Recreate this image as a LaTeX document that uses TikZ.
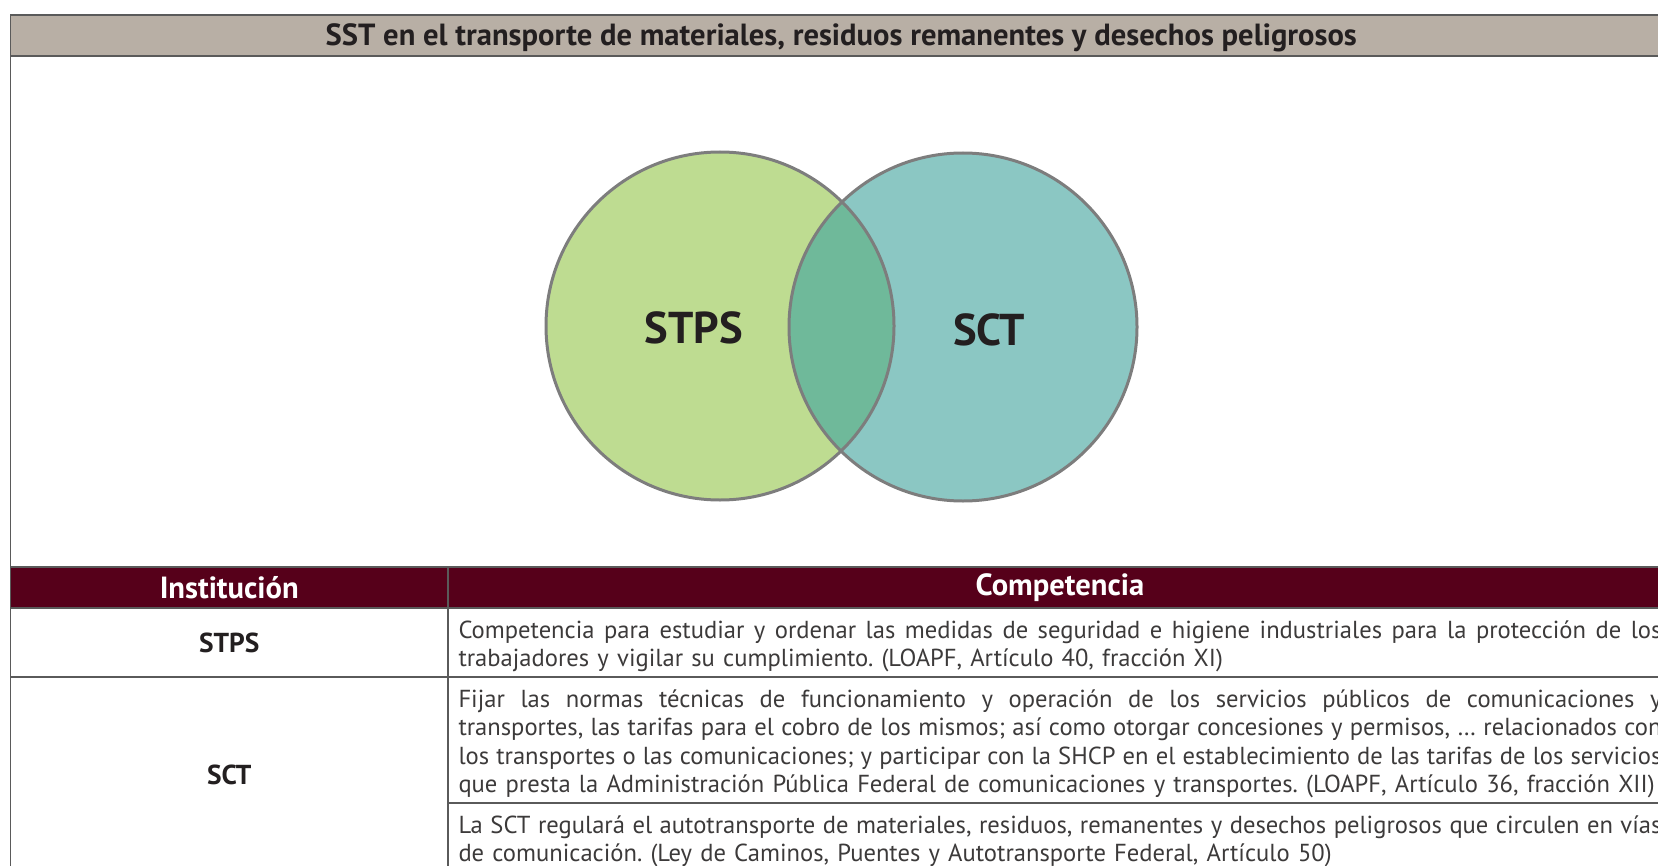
\documentclass[tikz,border=0pt]{standalone}
\usepackage{fontspec}
\setmainfont{PT Sans}
\usepackage{tikz}
\usetikzlibrary{positioning}

\definecolor{headgray}{RGB}{184,175,165}
\definecolor{maroon}{RGB}{86,0,26}
\definecolor{stpsgreen}{RGB}{190,220,145}
\definecolor{sctteal}{RGB}{139,199,195}
\definecolor{overlapgreen}{RGB}{111,185,154}
\definecolor{ringgray}{RGB}{125,125,125}
\definecolor{rulegray}{RGB}{90,90,90}
\definecolor{inkblack}{RGB}{35,31,32}
\definecolor{bodyink}{RGB}{60,58,58}

\newlength\txtw
\setlength\txtw{601.5pt}
% one justified line of a cell
\newcommand\justline[1]{\leavevmode\hbox to \txtw{\spaceskip=\fontdimen2\font plus 1fil\relax #1}}

\begin{document}
\frenchspacing
\begin{tikzpicture}[
			x=0.5pt, y=-0.5pt,
			font=\fontsize{12.3}{14.25}\selectfont,
			text=inkblack,
			cell/.style={
					draw=rulegray, line width=0.7pt, rectangle,
					anchor=north west, inner sep=0pt, outer sep=0pt
				},
			headcell/.style={
					cell, fill=maroon, text=white,
					font=\fontsize{15.3}{17}\selectfont\bfseries,
					minimum height=20.5pt
				},
			namecell/.style={
					cell, minimum width=218.75pt,
					font=\fontsize{13.7}{15}\selectfont\bfseries
				},
			bodycell/.style={
					cell, minimum width=612pt, text width=601.5pt,
					inner xsep=5.25pt, align=left, text=bodyink,
					execute at begin node={\rule{0pt}{12.8pt}}
				},
			venn/.style={circle, minimum size=174pt, inner sep=0pt},
			ring/.style={draw=ringgray, line width=1.5pt},
			vennlbl/.style={font=\fontsize{22.3}{26}\selectfont\bfseries}
		]

		\clip (0,0) rectangle (1658,866);

		% Title bar
		\node[cell, fill=headgray, minimum width=830.75pt, minimum height=20.5pt,
			text height=14.5pt, text depth=4pt,
			font=\fontsize{15.3}{17}\selectfont\bfseries]
		(title) at (10.5,15) {SST en el transporte de materiales, residuos remanentes y desechos peligrosos};

		% Venn area
		\node[cell, minimum width=830.75pt, minimum height=255.5pt] (vennbox) at (10.5,56) {};

		\node[venn, fill=stpsgreen] (stpsC) at (720,326) {};
		\node[venn, fill=sctteal] (sctC) at (963,327) {};
		\begin{scope}
			\clip (stpsC.center) circle (87pt);
			\fill[overlapgreen] (sctC.center) circle (87pt);
		\end{scope}
		\draw[ring] (stpsC.center) circle (87pt);
		\draw[ring] (sctC.center) circle (87pt);

		\node[vennlbl] (stpsL) at (694,328) {STPS};
		\node[vennlbl] (sctL) at (989,330) {SCT};

		% Table header
		\node[headcell, minimum width=218.75pt] (hInst) at (10.5,567) {Institución};
		\node[headcell, minimum width=612pt] (hComp) at (448,567) {Competencia};

		% STPS row
		\node[namecell, minimum height=34.5pt] (stpsName) at (10.5,608) {STPS};
		\node[bodycell, minimum height=34.5pt] (stpsTxt) at (448,608)
		{\justline{Competencia para estudiar y ordenar las medidas de seguridad e higiene industriales para la protección de los}\\
			trabajadores y vigilar su cumplimiento. (LOAPF, Artículo 40, fracción XI)};

		% SCT rows
		\node[namecell, minimum height=97.5pt] (sctName) at (10.5,677) {SCT};
		\node[bodycell, minimum height=63pt] (sctTxtA) at (448,677)
		{\justline{Fijar las normas técnicas de funcionamiento y operación de los servicios públicos de comunicaciones y}\\
			\justline{transportes, las tarifas para el cobro de los mismos; así como otorgar concesiones y permisos, … relacionados con}\\
			\justline{los transportes o las comunicaciones; y participar con la SHCP en el establecimiento de las tarifas de los servicios}\\
			que presta la Administración Pública Federal de comunicaciones y transportes. (LOAPF, Artículo 36, fracción XII)};
		\node[bodycell, minimum height=34.5pt] (sctTxtB) at (448,803)
		{\justline{La SCT regulará el autotransporte de materiales, residuos, remanentes y desechos peligrosos que circulen en vías}\\
			de comunicación. (Ley de Caminos, Puentes y Autotransporte Federal, Artículo 50)};

	\end{tikzpicture}
\end{document}
